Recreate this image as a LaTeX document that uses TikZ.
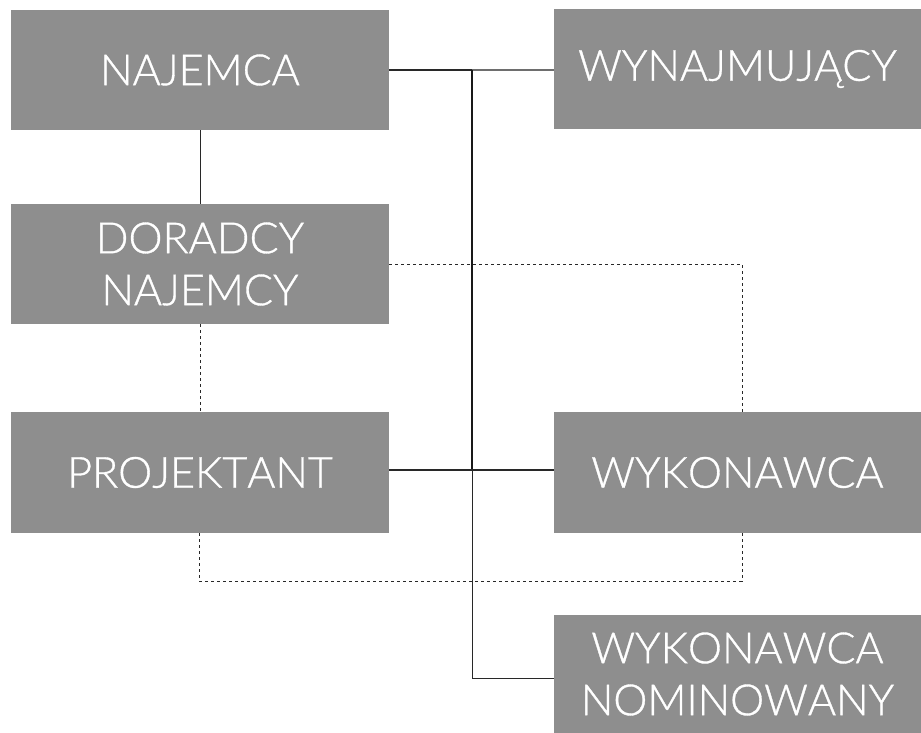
\documentclass[tikz,border=0pt]{standalone}
\usepackage{fontspec}
\setmainfont{Lato Light}[Kerning=Off,UprightFeatures={FakeBold=0.8}]
\begin{document}
\begin{tikzpicture}[x=1pt,y=-1pt,
  box/.style={rectangle,fill=boxgray,text=white,inner sep=0pt,align=center,
    font=\fontsize{43}{52}\selectfont},
  solidlink/.style={draw=linedark,line width=1.3pt},
  dashlink/.style={draw=linedark,line width=1pt,dash pattern=on 3pt off 3pt}]
\definecolor{boxgray}{RGB}{142,142,142}
\definecolor{linedark}{RGB}{40,40,40}
\definecolor{linegray}{RGB}{110,110,110}
\useasboundingbox (0,0) rectangle (921,733);

% boxes
\node[box,minimum width=378pt,minimum height=120pt] (naj) at (200,70) {NAJEMCA};
\node[box,minimum width=367pt,minimum height=120pt] (wyn) at (737.5,69) {WYNAJMUJĄCY};
\node[box,minimum width=378pt,minimum height=120pt] (dor) at (200,264) {DORADCY\\NAJEMCY};
\node[box,minimum width=378pt,minimum height=121pt] (pro) at (200,472.5) {PROJEKTANT};
\node[box,minimum width=367pt,minimum height=121pt] (wyk) at (737.5,472.5) {WYKONAWCA};
\node[box,minimum width=367pt,minimum height=118pt] (nom) at (737.5,674) {WYKONAWCA\\NOMINOWANY};

% junction points on the main vertical
\coordinate (jtop) at (472,70);
\coordinate (jmid) at (472,470);
\coordinate (jbot) at (472,678);
\coordinate (dr) at (742,264);
\coordinate (dl) at (199,581);
\coordinate (dbr) at (742,581);

% solid links
\draw[line width=2pt,draw=linedark] (naj.east |- jtop) -- (jtop);
\draw[line width=1.5pt,draw=linegray] (jtop) -- (wyn.west |- jtop);
\draw[line width=2.8pt,draw=black!90] (jtop) -- (jmid);
\draw[solidlink] (pro.east |- jmid) -- (wyk.west |- jmid);
\draw[line width=1pt,draw=linedark] (jmid) -- (jbot) -- (nom.west |- jbot);
\draw[line width=1pt,draw=linedark] (naj.south) -- (dor.north);

% dashed links
\draw[dashlink] (dor.south) -- (pro.north);
\draw[dashlink] (dor.east) -- (dr) -- (wyk.north -| dr);
\draw[dashlink] (pro.south -| dl) -- (dl) -- (dbr) -- (wyk.south -| dbr);
\end{tikzpicture}
\end{document}
